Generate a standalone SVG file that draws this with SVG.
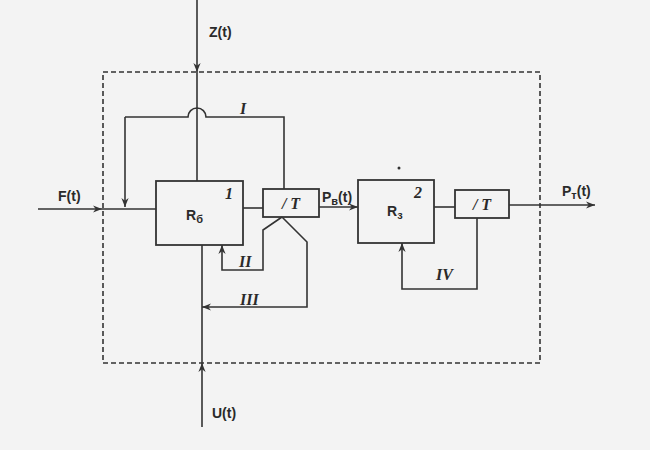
<svg xmlns="http://www.w3.org/2000/svg" width="650" height="450" viewBox="0 0 650 450">
<defs>
<marker id="ah" viewBox="0 0 10 10" refX="10" refY="5" markerWidth="9" markerHeight="9" markerUnits="userSpaceOnUse" orient="auto">
<path d="M0,1 L10,5 L0,9 L3,5 Z" fill="#333"/>
</marker>
<style>
.ln{fill:none;stroke:#333;stroke-width:1.6}
.box{fill:none;stroke:#333;stroke-width:1.8}
.dash{fill:none;stroke:#333;stroke-width:1.6;stroke-dasharray:5 3}
.t{font-family:"Liberation Sans",Arial,sans-serif;font-weight:bold;fill:#2a2a2a;font-size:14px}
.it{font-family:"Liberation Serif","Times New Roman",serif;font-style:italic;font-weight:bold;fill:#2a2a2a;font-size:16px}
</style>
</defs>
<rect width="650" height="450" fill="#f3f3f3"/>
<rect x="103" y="72" width="437" height="291" class="dash"/>
<g id="connectors">
<path class="ln" d="M197,0 V72" marker-end="url(#ah)"/>
<path class="ln" d="M197,72 V181"/>
<path class="ln" d="M125,117 H188 A9,9 0 0 1 206,117 H284 V189"/>
<path class="ln" d="M125,117 V207" marker-end="url(#ah)"/>
<path class="ln" d="M38,209 H102" marker-end="url(#ah)"/>
<path class="ln" d="M102,209 H156"/>
<path class="ln" d="M243,208 H263"/>
<path class="ln" d="M319,207 H358" marker-end="url(#ah)"/>
<path class="ln" d="M282,217 L263,230 V270 H222 V245" marker-end="url(#ah)"/>
<path class="ln" d="M282,217 L307,242 V307 H202" marker-end="url(#ah)"/>
<path class="ln" d="M202,427 V363" marker-end="url(#ah)"/>
<path class="ln" d="M202,363 V245"/>
<path class="ln" d="M434,207 H455"/>
<path class="ln" d="M509,205 H595" marker-end="url(#ah)"/>
<path class="ln" d="M477,218 V289 H402 V243" marker-end="url(#ah)"/>
</g>
<g id="R6">
<rect x="156" y="181" width="87" height="64" class="box"/>
<text x="186" y="220" class="t">R<tspan font-size="11" dy="3">б</tspan></text>
<text x="225" y="199" class="it">1</text>
</g>
<g id="T1">
<rect x="263" y="189" width="56" height="28" class="box"/>
<text x="291" y="209" class="it" text-anchor="middle" font-size="18">/ T</text>
</g>
<g id="R3">
<rect x="358" y="180" width="76" height="63" class="box"/>
<text x="387" y="216" class="t">R<tspan font-size="11" dy="3">з</tspan></text>
<text x="414" y="198" class="it">2</text>
</g>
<g id="T2">
<rect x="455" y="190" width="54" height="28" class="box"/>
<text x="482" y="210" class="it" text-anchor="middle" font-size="18">/ T</text>
</g>
<g id="labels">
<text x="209" y="37" class="t">Z(t)</text>
<text x="58" y="201" class="t">F(t)</text>
<text x="322" y="202" class="t">P<tspan font-size="11" dy="3">в</tspan><tspan dy="-3">(t)</tspan></text>
<text x="562" y="196" class="t">P<tspan font-size="11" dy="3">т</tspan><tspan dy="-3">(t)</tspan></text>
<text x="212" y="418" class="t">U(t)</text>
<text x="240" y="114" class="it">I</text>
<text x="239" y="267" class="it">II</text>
<text x="240" y="305" class="it">III</text>
<text x="436" y="280" class="it">IV</text>
<circle cx="399" cy="168" r="1.5" fill="#333"/>
</g>
</svg>
